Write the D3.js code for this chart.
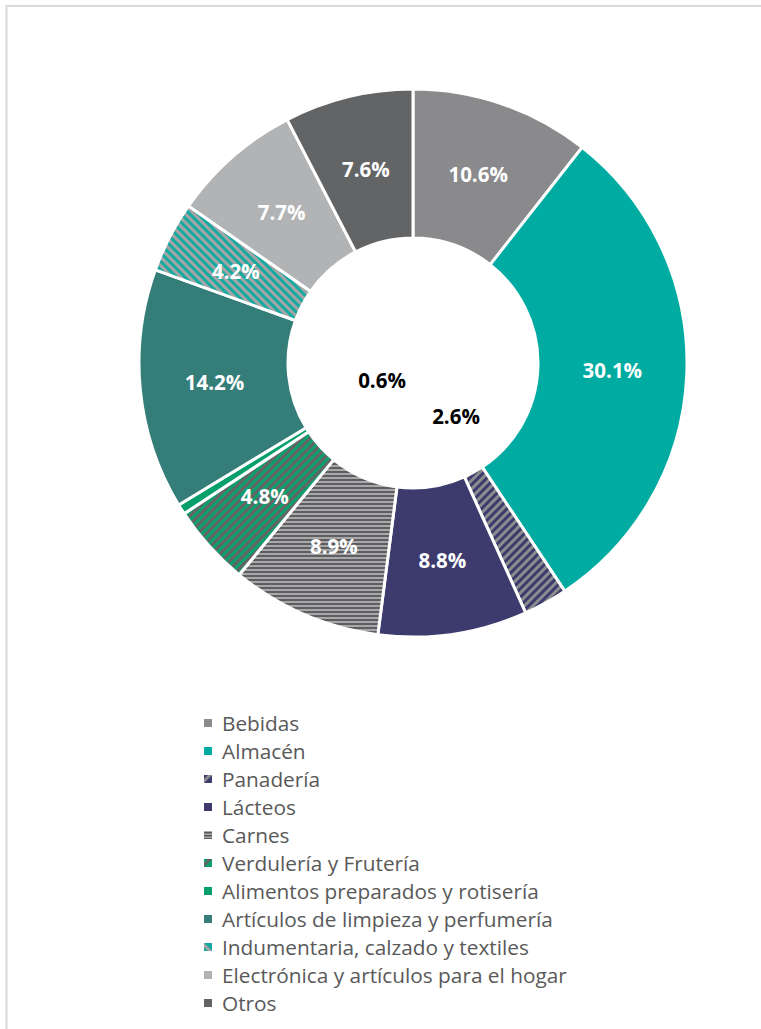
<!DOCTYPE html>
<html>
<head>
<meta charset="utf-8">
<script src="https://cdn.jsdelivr.net/npm/d3@7"></script>
<style>
  html, body { margin: 0; padding: 0; background: #fff; }
  svg { display: block; }
</style>
</head>
<body>
<svg id="chart" width="761" height="1029"></svg>
<script>
const categories = ["Bebidas", "Almacén", "Panadería", "Lácteos", "Carnes", "Verdulería y Frutería",
  "Alimentos preparados y rotisería", "Artículos de limpieza y perfumería",
  "Indumentaria, calzado y textiles", "Electrónica y artículos para el hogar", "Otros"];
const values = [10.6, 30.1, 2.6, 8.8, 8.9, 4.8, 0.6, 14.2, 4.2, 7.7, 7.6];
const labels = ["10.6%", "30.1%", "2.6%", "8.8%", "8.9%", "4.8%", "0.6%", "14.2%", "4.2%", "7.7%", "7.6%"];
// fill style per category: solid colour or stripe pattern [type, colorA, colorB]
const fills = [
  ["solid", "#8a8a8c"],
  ["solid", "#00aba1"],
  ["diagUp", "#3d3b6e", "#8c8c8e"],
  ["solid", "#3d3b6e"],
  ["horiz", "#5e5e60", "#a8a8aa"],
  ["diagUp", "#0aa06e", "#646466"],
  ["solid", "#07a06b"],
  ["solid", "#347d79"],
  ["diagDown", "#14aaa0", "#a5a5a7"],
  ["solid", "#b2b3b5"],
  ["solid", "#636466"]
];
// small slices have their labels moved into the hole (black text)
const insideLabels = { "Panadería": [43, 54], "Alimentos preparados y rotisería": [-31, 18] };

const svg = d3.select("#chart");
const W = 761, H = 1029;

// chart area border
svg.append("path")
  .attr("d", `M6.5,${H} L6.5,6 L${W},6`)
  .attr("fill", "none").attr("stroke", "#d9d9d9").attr("stroke-width", 2);

const defs = svg.append("defs");
fills.forEach((f, i) => {
  if (f[0] === "solid") return;
  const p = defs.append("pattern")
    .attr("id", "pat" + i)
    .attr("patternUnits", "userSpaceOnUse");
  if (f[0] === "horiz") {
    p.attr("width", 8).attr("height", 4);
    p.append("rect").attr("width", 8).attr("height", 4).attr("fill", f[2]);
    p.append("rect").attr("width", 8).attr("height", 2).attr("fill", f[1]);
  } else {
    const s = 6;
    p.attr("width", s).attr("height", s);
    p.append("rect").attr("width", s).attr("height", s).attr("fill", f[2]);
    p.attr("patternTransform", f[0] === "diagUp" ? "rotate(45)" : "rotate(-45)");
    p.append("rect").attr("width", s / 2).attr("height", s).attr("fill", f[1]);
  }
});

const cx = 413, cy = 363;
const rOuter = 274, rInner = 125;

const pie = d3.pie().sort(null).value(d => d.value);
const data = categories.map((c, i) => ({ cat: c, value: values[i], label: labels[i], idx: i }));
const arcs = pie(data);
const arc = d3.arc().innerRadius(rInner).outerRadius(rOuter);

const g = svg.append("g").attr("transform", `translate(${cx},${cy})`);
g.selectAll("path.slice").data(arcs).enter().append("path")
  .attr("class", "slice")
  .attr("d", arc)
  .attr("fill", d => fills[d.data.idx][0] === "solid" ? fills[d.data.idx][1] : `url(#pat${d.data.idx})`)
  .attr("stroke", "#fff")
  .attr("stroke-width", 3)
  .attr("stroke-linejoin", "miter");

const font = "'Open Sans', 'Liberation Sans', sans-serif";
g.selectAll("text.lbl").data(arcs).enter().append("text")
  .attr("class", "lbl")
  .attr("transform", d => {
    const o = insideLabels[d.data.cat];
    if (o) return `translate(${o[0]},${o[1]})`;
    const c = arc.centroid(d);
    return `translate(${c[0]},${c[1]})`;
  })
  .attr("text-anchor", "middle")
  .attr("dy", "0.36em")
  .attr("font-family", font)
  .attr("font-weight", 700)
  .attr("font-size", 20.5)
  .attr("fill", d => insideLabels[d.data.cat] ? "#000" : "#fff")
  .text(d => d.data.label);

// legend patterns (smaller scale)
fills.forEach((f, i) => {
  if (f[0] === "solid") return;
  const p = defs.append("pattern").attr("id", "lpat" + i).attr("patternUnits", "userSpaceOnUse");
  if (f[0] === "horiz") {
    p.attr("width", 4).attr("height", 3);
    p.append("rect").attr("width", 4).attr("height", 3).attr("fill", f[2]);
    p.append("rect").attr("width", 4).attr("height", 1.5).attr("fill", f[1]);
  } else {
    p.attr("width", 8).attr("height", 8).attr("patternTransform", f[0] === "diagUp" ? "rotate(45)" : "rotate(-45)");
    p.append("rect").attr("width", 8).attr("height", 8).attr("fill", f[1]);
    p.append("rect").attr("width", 3).attr("height", 8).attr("fill", f[2]);
  }
});

// legend
const legend = svg.append("g").attr("transform", "translate(204,723)");
const rowH = 28;
const items = legend.selectAll("g.item").data(data).enter().append("g")
  .attr("class", "item")
  .attr("transform", (d, i) => `translate(0,${i * rowH})`);
items.append("rect")
  .attr("x", 0).attr("y", -4).attr("width", 8).attr("height", 8)
  .attr("fill", d => fills[d.idx][0] === "solid" ? fills[d.idx][1] : `url(#lpat${d.idx})`);
items.append("text")
  .attr("x", 18).attr("dy", "0.36em")
  .attr("font-family", font)
  .attr("font-size", 20.8)
  .attr("fill", "#595959")
  .text(d => d.cat);
</script>
</body>
</html>
